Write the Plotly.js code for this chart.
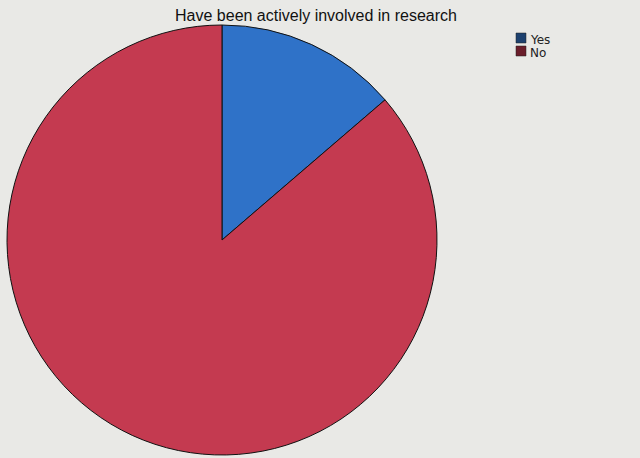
<!DOCTYPE html>
<html><head><meta charset="utf-8">
<script src="https://cdn.plot.ly/plotly-3.0.1.min.js"></script>
<style>html,body{margin:0;padding:0;background:#e9e9e6;}#chart{width:640px;height:458px;}</style>
</head><body><div id="chart"></div>
<script>
const categories = ["Yes", "No"];
const values = [13.7, 86.3];
const sliceColors = ["#2f72c8", "#c43a50"];
const legendColors = ["#1d416f", "#6a1e2b"];
const titleText = "Have been actively involved in research";

const shapes = [];
const annotations = [];
categories.forEach((c, i) => {
  const y0 = 1 - (33 + i * 13) / 458;
  shapes.push({type: "rect", xref: "paper", yref: "paper",
    x0: 516/640, x1: 526/640, y0: y0 - 10/458, y1: y0,
    fillcolor: legendColors[i], line: {color: "#222", width: 0.5}});
  annotations.push({xref: "paper", yref: "paper", x: 528/640, y: y0 + 2/458,
    xanchor: "left", yanchor: "top", text: c, showarrow: false,
    font: {family: "DejaVu Sans", size: 12, color: "#222"}});
});

Plotly.newPlot("chart", [{
  type: "pie",
  labels: categories,
  values: values,
  sort: false,
  direction: "clockwise",
  rotation: 0,
  marker: {colors: sliceColors, line: {color: "#111", width: 1}},
  textinfo: "none",
  hoverinfo: "none",
  domain: {x: [7/640, 437/640], y: [3/458, 433/458]}
}], {
  width: 640, height: 458,
  margin: {l: 0, r: 0, t: 0, b: 0},
  paper_bgcolor: "#e9e9e6",
  showlegend: false,
  title: {text: titleText, x: 316/640, xanchor: "center", y: 1 - 15/458, yanchor: "middle",
    font: {family: "Liberation Sans", size: 16, color: "#111", weight: 500}},
  shapes: shapes,
  annotations: annotations
}, {staticPlot: true});
</script></body></html>
